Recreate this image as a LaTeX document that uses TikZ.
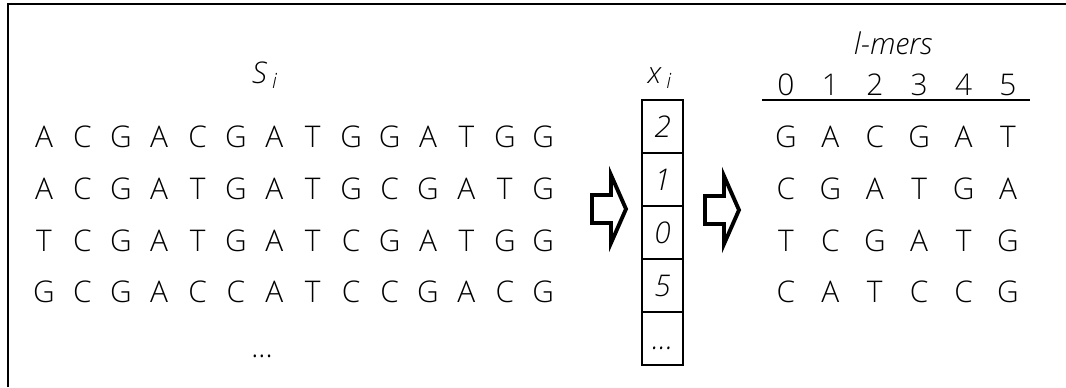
\documentclass[tikz,border=0pt]{standalone}
\usepackage{fontspec}
\setmainfont{Open Sans}[UprightFont=* Light,ItalicFont=* Light Italic]
\usetikzlibrary{positioning}
\tikzset{
  txt/.style={inner sep=0pt,font=\fontsize{17}{20}\selectfont},
  nuc/.style={txt},
  lab/.style={txt,font=\fontsize{17}{20}\selectfont\itshape},
  cell/.style={draw,line width=1.1pt,minimum width=0.82cm,minimum height=1.06cm,
    inner sep=0pt,font=\fontsize{17}{20}\selectfont\itshape},
  rim/.style={line width=1.1pt},
  blockarr/.style={line width=2.2pt,line join=miter}
}
\newcommand{\moredots}{\vphantom{0}...}

\begin{document}
\begin{tikzpicture}[x=0.02cm,y=-0.02cm]
\useasboundingbox (0,0) rectangle (1066,387);
\draw[rim] (8,387) -- (8,4) -- (1066,4);
\def\fatarrow{(0,-14) -- (19,-14) -- (19,-34) -- (34,0) -- (19,34) -- (19,14)
  -- (0,14) -- cycle}
% ---------------- input sequences ----------------
\node[lab] (S) at (265,75) {S\,\textsubscript{i}};
\foreach \row [count=\r] in {{A,C,G,A,C,G,A,T,G,G,A,T,G,G},
    {A,C,G,A,T,G,A,T,G,C,G,A,T,G},{T,C,G,A,T,G,A,T,C,G,A,T,G,G},
    {G,C,G,A,C,C,A,T,C,C,G,A,C,G}}
  \foreach \c [count=\k] in \row
    \node[nuc] (s\r-\k) at (44+38.4*\k-38.4,137+51.7*\r-51.7) {\c};
\node[txt] (sdots) at (262,347) {\moredots};
% ---------------- start positions ----------------
\draw[blockarr,shift={(592,209)}] \fatarrow;
\node[lab] (X) at (660,78) {x\,\textsubscript{i}};
\foreach \v [count=\k] in {2,1,0,5,\moredots}
  \node[cell] (x\k) at (662.5,126.5+53*\k-53) {\v};
\draw[blockarr,shift={(705,210)}] \fatarrow;
% ---------------- extracted l-mers ----------------
\node[lab] (L) at (893,43) {l-mers};
\foreach \d in {0,...,5}
  \node[txt] (h\d) at (786+44.4*\d,85) {\d};
\draw[rim,line width=0.9pt] (762,100) -- (1030,100);
\foreach \row [count=\r] in {{G,A,C,G,A,T},{C,G,A,T,G,A},{T,C,G,A,T,G},
    {C,A,T,C,C,G}}
  \foreach \c [count=\k] in \row
    \node[nuc] (m\r-\k) at (786+44.4*\k-44.4,137+51.7*\r-51.7) {\c};
\end{tikzpicture}
\end{document}
